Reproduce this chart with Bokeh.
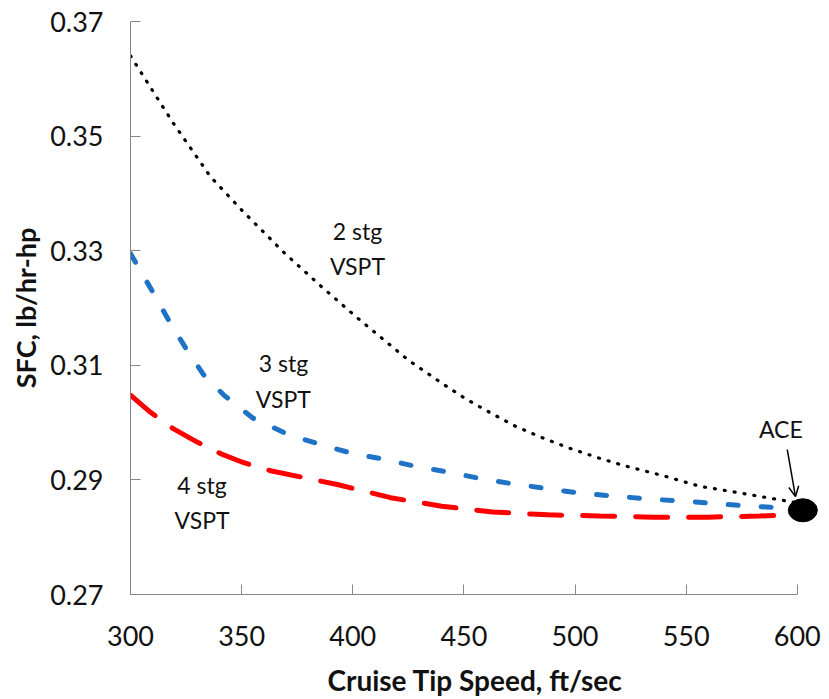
from bokeh.plotting import figure
from bokeh.models import Range1d, Label, Arrow, OpenHead
from bokeh.embed import file_html
from bokeh.resources import INLINE

# ---- data ----
speed_2stg = [300, 319, 336, 351, 369, 386, 402, 425, 440, 451, 462, 473, 485, 497, 510, 522,
              539, 556, 573, 591, 600]
sfc_2stg = [0.3640, 0.3524, 0.3429, 0.3367, 0.3297, 0.3237, 0.3183, 0.3109, 0.3069, 0.3041,
            0.3017, 0.2994, 0.2974, 0.2956, 0.2939, 0.2925, 0.2908, 0.2889, 0.2878, 0.2866, 0.2860]
speed_3stg = [300, 310, 318, 325, 333, 342, 355, 371, 387, 400, 414, 429, 444, 459, 474, 489,
              502, 520, 535, 550, 565, 580, 594, 600]
sfc_3stg = [0.3295, 0.3228, 0.3173, 0.3129, 0.3083, 0.3048, 0.3008, 0.2979, 0.2960, 0.2946,
            0.2936, 0.2923, 0.2913, 0.2901, 0.2892, 0.2884, 0.2877, 0.2871, 0.2866, 0.2863,
            0.2858, 0.2854, 0.2851, 0.2850]
speed_4stg = [300, 309, 319, 330, 341, 351, 363, 378, 393, 417, 440, 463, 488, 511, 535, 560, 583, 600]
sfc_4stg = [0.3048, 0.3018, 0.2990, 0.2966, 0.2945, 0.2930, 0.2916, 0.2904, 0.2892, 0.2869,
            0.2854, 0.2844, 0.2839, 0.2837, 0.2835, 0.2835, 0.2837, 0.2839]
ace_speed = [602.5]
ace_sfc = [0.2847]

x_ticks = [300, 350, 400, 450, 500, 550, 600]
y_ticks = [0.27, 0.29, 0.31, 0.33, 0.35, 0.37]
y_tick_labels = ["0.27", "0.29", "0.31", "0.33", "0.35", "0.37"]

FONT = "Lato"

p = figure(width=829, height=699, output_backend="svg", toolbar_location=None,
           x_range=Range1d(300, 610), y_range=Range1d(0.27, 0.37),
           min_border_left=130, min_border_right=10, min_border_top=21, min_border_bottom=101)
p.outline_line_color = None
p.grid.grid_line_color = None
p.background_fill_color = "white"
p.border_fill_color = "white"

p.line(speed_2stg, sfc_2stg, line_color="black", line_width=3.2, line_dash="1 9", line_cap="round")
p.line(speed_3stg, sfc_3stg, line_color="#1F73C6", line_width=5, line_dash="10 23", line_cap="round")
p.line(speed_4stg, sfc_4stg, line_color="#FF0000", line_width=5, line_dash="32 21", line_cap="round")
p.ellipse(x=ace_speed, y=ace_sfc, width=29, height=23, width_units="screen", height_units="screen",
          fill_color="black", line_color="black")

# axes
for ax in (p.xaxis[0], p.yaxis[0]):
    ax.axis_line_color = "#868686"
    ax.major_tick_line_color = "#868686"
    ax.minor_tick_line_color = None
    ax.major_tick_out = 0
    ax.major_tick_in = 10
    ax.major_label_text_font = FONT
    ax.major_label_text_font_size = "27px"
    ax.major_label_text_color = "#111111"
    ax.axis_label_text_font = FONT
    ax.axis_label_text_font_style = "bold"
    ax.axis_label_text_color = "#111111"
p.xaxis.axis_label_text_font_size = "28px"
p.yaxis.axis_label_text_font_size = "27px"
p.xaxis.ticker = x_ticks
p.yaxis.ticker = y_ticks
p.yaxis.major_label_overrides = {t: l for t, l in zip(y_ticks, y_tick_labels)}
p.xaxis.bounds = (300, 600)
p.yaxis.bounds = (0.27, 0.37)
p.xaxis.major_label_standoff = 31
p.yaxis.major_label_standoff = 27
p.xaxis.axis_label = "Cruise Tip Speed, ft/sec"
p.yaxis.axis_label = "SFC, lb/hr-hp"
p.xaxis.axis_label_standoff = 14
p.yaxis.axis_label_standoff = 5

# series annotations
def ann(x, y, t):
    p.add_layout(Label(x=x, y=y, text=t, text_font=FONT, text_font_size="23px",
                       text_align="center", text_baseline="middle", text_color="#111111"))

ann(402.1, 0.3334, "2 stg")
ann(402.1, 0.3273, "VSPT")
ann(368.8, 0.3104, "3 stg")
ann(368.8, 0.3041, "VSPT")
ann(332.2, 0.2891, "4 stg")
ann(332.2, 0.2830, "VSPT")
ann(592.6, 0.2989, "ACE")

p.add_layout(Arrow(end=OpenHead(size=10, line_width=1.5, line_color="black"),
                   x_start=595.5, y_start=0.2953, x_end=599.2, y_end=0.2871,
                   line_width=1.5, line_color="black"))

open("out.html", "w").write(file_html(p, INLINE))
